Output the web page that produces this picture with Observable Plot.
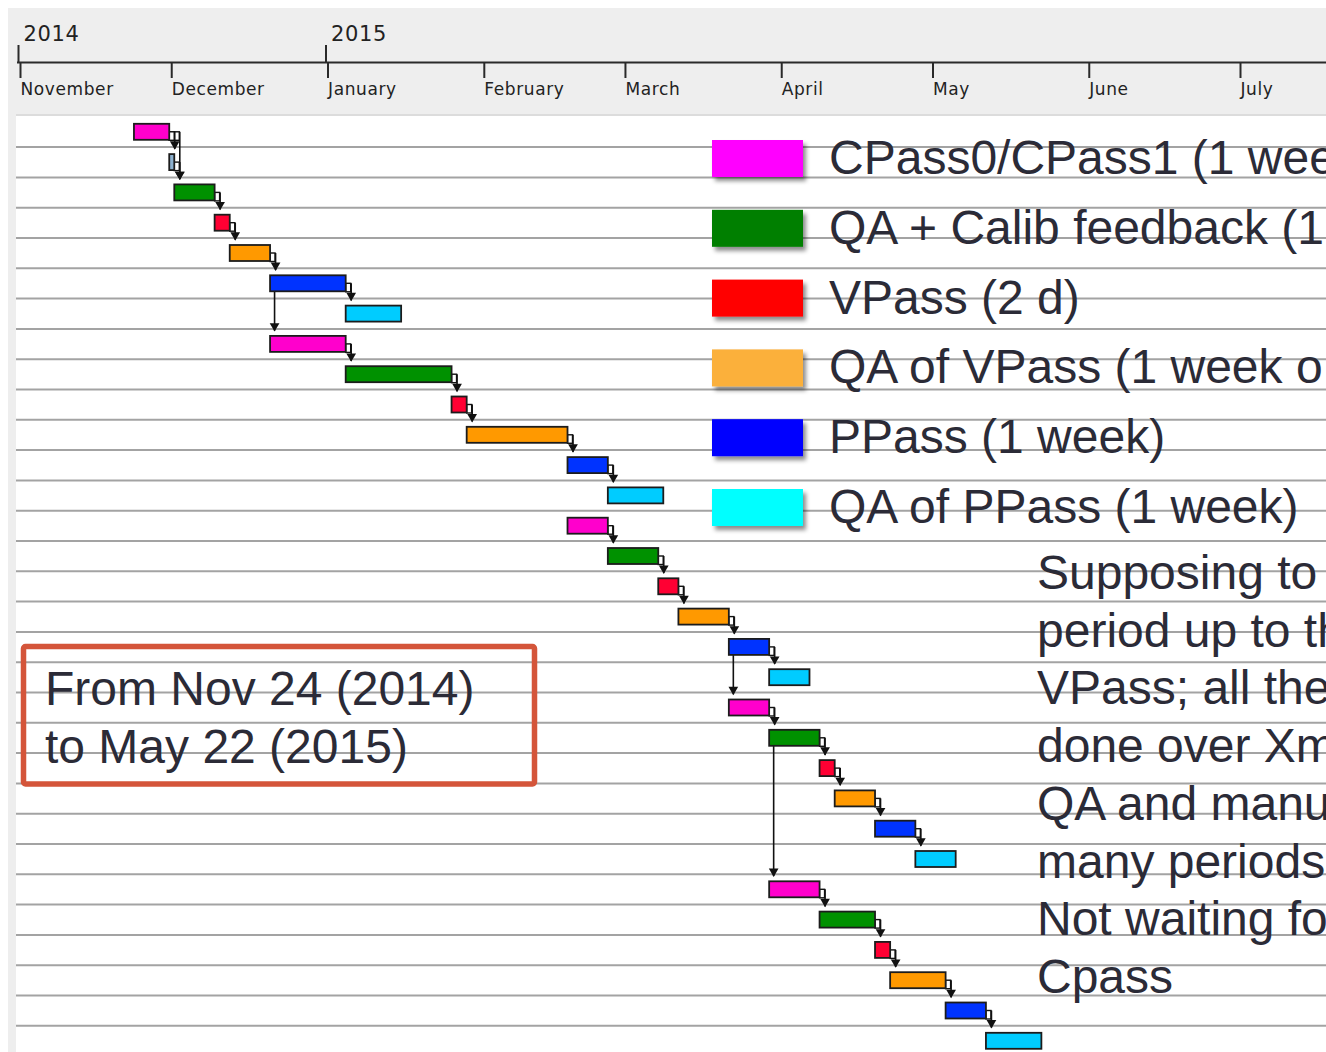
<!DOCTYPE html>
<html><head><meta charset="utf-8">
<script src="https://cdn.jsdelivr.net/npm/d3@7"></script>
<script src="https://cdn.jsdelivr.net/npm/@observablehq/plot@0.6"></script>
<style>
html,body{margin:0;padding:0;background:#fff;overflow:hidden}
#wrap{position:relative;width:1326px;height:1052px;overflow:hidden;background:#fff}
#hdrbg{position:absolute;left:8px;top:8px;width:1318px;height:106px;background:#eeeeee;border-bottom:2px solid #dcdcdc}
#strip{position:absolute;left:8px;top:8px;width:8px;height:1044px;background:#eeeeee}
#hdr{position:absolute;left:0;top:0}
#main{position:absolute;left:0;top:116px}
</style></head><body>
<div id="wrap"><div id="hdrbg"></div><div id="strip"></div><div id="hdr"></div><div id="main"></div></div>
<script>
// ---------- data ----------
const taskTypes = ["CPass0/CPass1", "Merge", "QA + Calib feedback", "VPass", "QA of VPass", "PPass", "QA of PPass"];
const taskType = ["CPass0/CPass1","Merge","QA + Calib feedback","VPass","QA of VPass","PPass","QA of PPass",
  "CPass0/CPass1","QA + Calib feedback","VPass","QA of VPass","PPass","QA of PPass",
  "CPass0/CPass1","QA + Calib feedback","VPass","QA of VPass","PPass","QA of PPass",
  "CPass0/CPass1","QA + Calib feedback","VPass","QA of VPass","PPass","QA of PPass",
  "CPass0/CPass1","QA + Calib feedback","VPass","QA of VPass","PPass","QA of PPass"];
const taskStart = ["2014-11-24","2014-12-01","2014-12-02","2014-12-10","2014-12-13","2014-12-21","2015-01-05",
  "2014-12-21","2015-01-05","2015-01-26","2015-01-29","2015-02-18","2015-02-26",
  "2015-02-18","2015-02-26","2015-03-08","2015-03-12","2015-03-22","2015-03-30",
  "2015-03-22","2015-03-30","2015-04-09","2015-04-12","2015-04-20","2015-04-28",
  "2015-03-30","2015-04-09","2015-04-20","2015-04-23","2015-05-04","2015-05-12"];
const taskEnd = ["2014-12-01","2014-12-02","2014-12-10","2014-12-13","2014-12-21","2015-01-05","2015-01-16",
  "2015-01-05","2015-01-26","2015-01-29","2015-02-18","2015-02-26","2015-03-09",
  "2015-02-26","2015-03-08","2015-03-12","2015-03-22","2015-03-30","2015-04-07",
  "2015-03-30","2015-04-09","2015-04-12","2015-04-20","2015-04-28","2015-05-06",
  "2015-04-09","2015-04-20","2015-04-23","2015-05-04","2015-05-12","2015-05-23"];
const linkFrom = [0,0,1,2,3,4,5,5,7,8,9,10,11,13,14,15,16,17,17,19,20,21,22,23,20,25,26,27,28,29];
const linkTo   = [2,1,2,3,4,5,6,7,8,9,10,11,12,14,15,16,17,18,19,20,21,22,23,24,25,26,27,28,29,30];

const monthStarts = ["2014-11-01","2014-12-01","2015-01-01","2015-02-01","2015-03-01","2015-04-01","2015-05-01","2015-06-01","2015-07-01"];
const monthLabels = ["November","December","January","February","March","April","May","June","July"];
const yearStarts = ["2014-11-01","2015-01-01"];
const yearLabels = ["2014","2015"];

// text as visible in the (cropped) original
const legendLabels = ["CPass0/CPass1 (1 wee","QA + Calib feedback (1","VPass (2 d)","QA of VPass (1 week o","PPass (1 week)","QA of PPass (1 week)"];
const boxLines = ["From Nov 24 (2014)","to May 22 (2015)"];
const noteLines = ["Supposing to","period up to th","VPass; all the","done over Xm","QA and manu","many periods","Not waiting fo","Cpass"];

// ---------- styles ----------
const barColors = ["#ff00cc","#8db1cf","#009100","#ff0033","#ff9900","#0033ff","#00ccff"];
const legendColors = ["#ff00ff","#007f00","#ff0000","#fbb03b","#0000ff","#00ffff"];
const textColor = "#2b2b37";

const D = s => new Date(s + "T00:00:00Z");
const tasks = taskStart.map((s, i) => ({row: i, type: taskType[i], start: D(s), end: D(taskEnd[i])}));
const links = linkFrom.map((f, i) => {
  const t = linkTo[i];
  return {from: f, to: t, aEnd: tasks[f].end, bStart: tasks[t].start, ss: +tasks[f].start === +tasks[t].start};
});
const fsLinks = links.filter(l => !l.ss);
const ssLinks = links.filter(l => l.ss);
const xDomain = [D("2014-11-01"), D("2015-07-01")];
const xRange = [18, 1238];
const BW = 30.3;

// ---------- header (time axis) ----------
const months = monthStarts.map(D), years = yearStarts.map(D);
const hdr = Plot.plot({
  width: 1326, height: 116, marginTop: 45, marginBottom: 54, marginLeft: 17, marginRight: 0,
  style: {background: "transparent", fontFamily: "DejaVu Sans", letterSpacing: "0.6px", color: "#222"},
  x: {type: "utc", domain: xDomain, range: xRange, axis: null},
  y: {domain: [0, 1], axis: null},
  marks: [
    Plot.ruleY([0], {stroke: "#2a2a2a", strokeWidth: 2}),
    Plot.ruleX(years, {x: d => d, y1: 0, y2: 1, stroke: "#2a2a2a", strokeWidth: 2}),
    Plot.axisX(months, {anchor: "bottom", tickSize: 16, tickPadding: 4, strokeWidth: 2, stroke: "#2a2a2a",
      tickFormat: d => monthLabels[months.findIndex(m => +m === +d)], textAnchor: "start", dx: 2, fontSize: 17, fill: "#222"}),
    Plot.text(years, {x: d => d, y: 1, text: (d, i) => yearLabels[i], textAnchor: "start", lineAnchor: "bottom", dx: 5, dy: -5, fontSize: 21, fill: "#222"})
  ]
});
document.getElementById("hdr").append(hdr);

// ---------- gantt ----------
const main = Plot.plot({
  width: 1326, height: 936, marginTop: 0, marginBottom: 0, marginLeft: 16, marginRight: 0,
  style: {background: "transparent"},
  x: {type: "utc", domain: xDomain, range: xRange, axis: null},
  y: {type: "band", domain: d3.range(31), range: [0.3, 0.3 + 31 * BW], padding: 0, round: false, axis: null},
  color: {domain: taskTypes, range: barColors},
  marks: [
    Plot.ruleY(d3.range(30), {y: d => d, dy: BW / 2, stroke: "#a3a3a3", strokeWidth: 2}),
    Plot.rect(fsLinks.slice().sort((a, b) => b.bStart - a.bStart), {x1: "aEnd", x2: "bStart", y: "from", insetTop: 15.5, insetBottom: 6.3, insetRight: -5, fill: "white", stroke: "#111", strokeWidth: 1.4}),
    Plot.ruleX(fsLinks, {x: "bStart", y1: "from", y2: "to", dx: 5, insetTop: 15.5, insetBottom: BW - 2.3, stroke: "#111", strokeWidth: 1.6}),
    Plot.ruleX(ssLinks, {x: "bStart", y1: "from", y2: "to", dx: 4, insetTop: 23.5, insetBottom: BW - 2.3, stroke: "#111", strokeWidth: 1.6}),
    Plot.barX(tasks, {x1: "start", x2: "end", y: "row", fill: "type", stroke: "#1c1c1c", strokeWidth: 1.8, insetTop: 7.5, insetBottom: 6.8}),
    Plot.dot(fsLinks, {x: "bStart", y: "to", dx: 5, dy: -18.1, symbol: "triangle", rotate: 180, r: 3.6, fill: "#111", stroke: "none"}),
    Plot.dot(ssLinks, {x: "bStart", y: "to", dx: 4, dy: -18.1, symbol: "triangle", rotate: 180, r: 3.6, fill: "#111", stroke: "none"})
  ]
});
document.getElementById("main").append(main);

// ---------- annotations overlay ----------
const ov = d3.select("#wrap").append("svg").attr("width", 1326).attr("height", 1052)
  .style("position", "absolute").style("left", "0px").style("top", "0px")
  .style("font-family", "'Liberation Sans', Arial, sans-serif");
ov.append("defs").append("filter").attr("id", "sh").attr("x", "-20%").attr("y", "-30%").attr("width", "150%").attr("height", "170%")
  .append("feDropShadow").attr("dx", 3).attr("dy", 4).attr("stdDeviation", 2).attr("flood-color", "#000").attr("flood-opacity", 0.45);

const lg = ov.append("g");
legendLabels.forEach((lab, i) => {
  const top = 140 + i * 69.8;
  lg.append("rect").attr("x", 712).attr("y", top).attr("width", 91).attr("height", 37)
    .attr("fill", legendColors[i]).attr("filter", "url(#sh)");
  lg.append("text").attr("x", 829).attr("y", top + 34).attr("font-size", 48).attr("fill", textColor).text(lab);
});

ov.append("rect").attr("x", 23.5).attr("y", 646.5).attr("width", 511).attr("height", 137.5).attr("rx", 2)
  .attr("fill", "none").attr("stroke", "#d4553a").attr("stroke-width", 5.5);
boxLines.forEach((t, i) => ov.append("text").attr("x", 45).attr("y", 705 + i * 57.5).attr("font-size", 48).attr("fill", textColor).text(t));
noteLines.forEach((t, i) => ov.append("text").attr("x", 1037).attr("y", 589 + i * 57.7).attr("font-size", 48).attr("fill", textColor).text(t));
</script>
</body></html>
